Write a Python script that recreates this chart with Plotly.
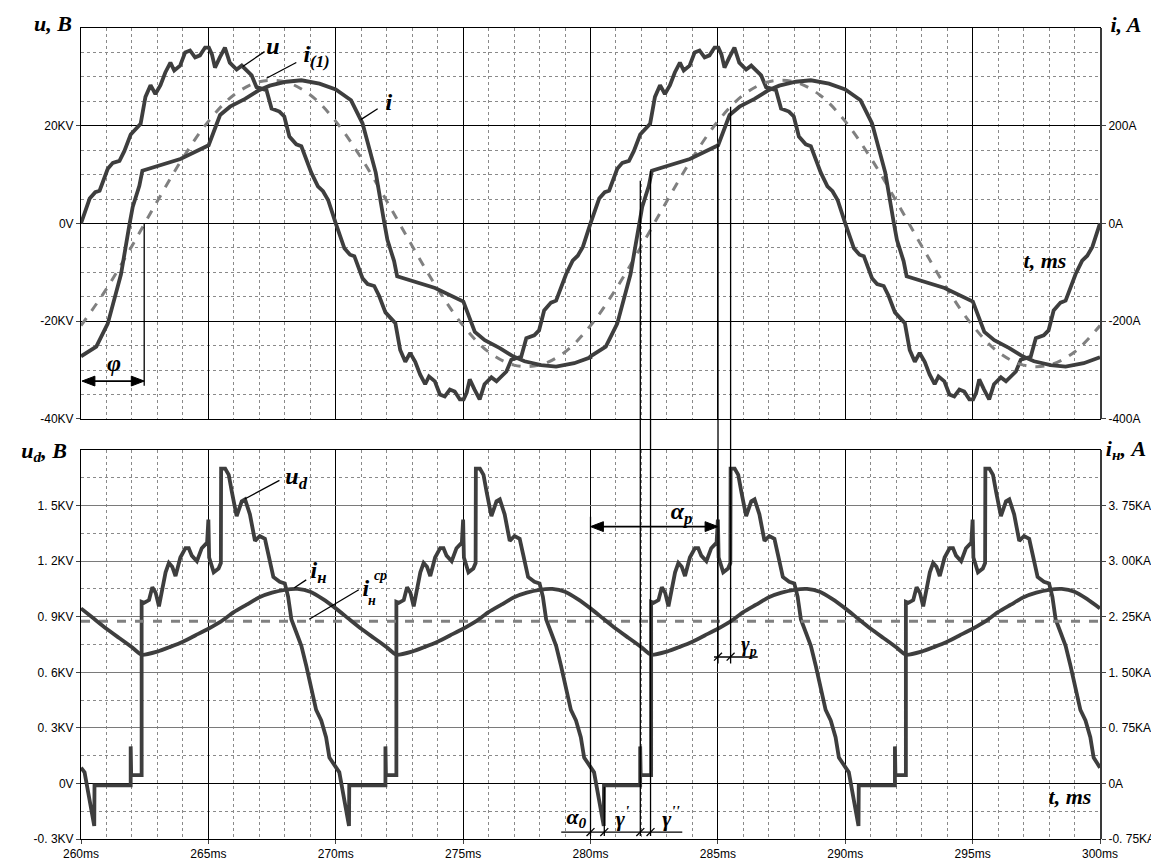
import re
import plotly.graph_objects as go

# ---------------- DATA ----------------
# Top panel: phase voltage u (KV), positive half-wave (ms from half-wave start)
u_half_t = [0, 0.34, 0.56, 0.73, 1.05, 1.25, 1.51, 1.70, 1.95, 2.34, 2.53, 2.73, 2.92, 3.12, 3.31,
            3.51, 3.66, 3.89, 4.09, 4.28, 4.48, 4.67, 4.87, 5.02, 5.14, 5.26, 5.45, 5.65, 5.84, 6.11,
            6.31, 6.70, 6.89, 7.28, 7.48, 7.79, 7.98, 8.18, 8.45, 8.65, 9.04, 9.30, 9.50, 9.70]
u_half_kv = [0, 5.1, 6.4, 6.7, 11.2, 12.4, 12.8, 14.8, 18.2, 20.4, 25.9, 28.3, 26.5, 28.3, 30.9,
             32.9, 31.3, 32.3, 35.0, 35.4, 34.0, 34.4, 36.0, 36.0, 34.6, 31.9, 34.0, 36.0, 32.9, 31.5,
             32.3, 30.3, 27.9, 27.3, 23.5, 22.9, 21.9, 17.8, 16.2, 15.8, 10.4, 7.6, 6.6, 4.8]

# Top panel: line current i (A), one period (ms from period start)
i_t = [0, 0.6, 1.05, 1.57, 1.9, 2.03, 2.29, 2.41, 3.9, 5.01, 5.46, 5.85, 6.44, 6.96, 7.41, 8.06, 8.65,
       9.36, 10.0, 10.6, 11.05, 11.57, 11.9, 12.03, 12.29, 12.41, 13.9, 15.01, 15.46, 15.85, 16.44,
       16.96, 17.41, 18.06, 18.65, 19.36, 20.0]
i_a = [-272, -252, -205, -104, -3, 34, 77, 108, 132, 160, 222, 239, 255, 272, 282, 290, 293,
       286, 274, 252, 205, 104, 3, -34, -77, -108, -132, -160, -222, -239, -255,
       -272, -282, -290, -293, -286, -274]

# Top panel: fundamental current i(1) (A), sampled every 1 ms from 260 ms
i1_t = list(range(260, 301))
i1_a = [-209, -134, -46, 46, 134, 209, 263, 290, 290, 263, 209, 134, 46, -46, -134, -209, -263, -290,
        -290, -263, -209, -134, -46, 46, 134, 209, 263, 290, 290, 263, 209, 134, 46, -46, -134, -209,
        -263, -290, -290, -263, -209]

# Bottom panel: rectified voltage ud (KV), one 10 ms cycle
ud_t = [0.00, 0.14, 0.52, 0.53, 1.95, 1.95, 1.97, 2.38, 2.38, 2.47, 2.67, 2.80, 2.93, 3.06, 3.19,
        3.32, 3.45, 3.58, 3.71, 3.90, 4.10, 4.23, 4.35, 4.55, 4.74, 4.95, 5.00, 5.03, 5.21, 5.40,
        5.49, 5.50, 5.66, 5.80, 5.92, 6.11, 6.31, 6.44, 6.63, 6.83, 7.02, 7.22, 7.35, 7.55, 7.80,
        8.00, 8.13, 8.26, 8.45, 8.65, 8.84, 9.04, 9.23, 9.43, 9.62, 9.75]
ud_kv = [0.085, 0.06, -0.23, -0.01, -0.01, 0.20, 0.045, 0.045, 0.98, 0.975, 0.99, 1.06, 1.03, 0.956, 1.06,
         1.14, 1.19, 1.17, 1.12, 1.22, 1.27, 1.27, 1.23, 1.20, 1.27, 1.30, 1.425, 1.22, 1.14, 1.16,
         1.19, 1.70, 1.70, 1.666, 1.576, 1.443, 1.523, 1.534, 1.453, 1.31, 1.336, 1.321, 1.24, 1.115, 1.089,
         1.08, 1.009, 0.885, 0.816, 0.743, 0.637, 0.524, 0.397, 0.34, 0.25, 0.14]

# Bottom panel: load current iн (KA), one 10 ms cycle, and its mean
in_t = [0, 0.5, 1.0, 1.5, 2.0, 2.38, 3.0, 3.5, 4.0, 4.5, 5.0, 5.5, 6.0, 6.5, 7.0, 7.5, 8.0, 8.5, 9.0, 9.5]
in_ka = [2.363, 2.225, 2.088, 1.963, 1.838, 1.738, 1.78, 1.843, 1.913, 2.0, 2.088, 2.188, 2.313, 2.413,
         2.513, 2.575, 2.613, 2.625, 2.588, 2.488]
in_mean_ka = 2.19

# Axis ticks
x_ticks = [260, 265, 270, 275, 280, 285, 290, 295, 300]
x_labels = [f"{v}ms" for v in x_ticks]
top_l_vals = [-40, -20, 0, 20]
top_l_text = ["-40KV", "-20KV", "0V", "20KV"]
top_r_vals = [-400, -200, 0, 200]
top_r_text = ["-400A", "-200A", "0A", "200A"]
bot_l_vals = [-0.3, 0, 0.3, 0.6, 0.9, 1.2, 1.5]
bot_l_text = ["-0. 3KV", "0V", "0. 3KV", "0. 6KV", "0. 9KV", "1. 2KV", "1. 5KV"]
bot_r_vals = [-0.75, 0, 0.75, 1.5, 2.25, 3.0, 3.75]
bot_r_text = ["-0. 75KA", "0A", "0. 75KA", "1. 50KA", "2. 25KA", "3. 00KA", "3. 75KA"]

# ---------------- build periodic series ----------------
u_x, u_y = [], []
for p in range(2):
    for t, v in zip(u_half_t, u_half_kv):
        u_x.append(260 + 20 * p + t); u_y.append(v)
    for t, v in zip(u_half_t, u_half_kv):
        u_x.append(270 + 20 * p + t); u_y.append(-v)
u_x.append(300); u_y.append(0)

ix, iy = [], []
for p in range(2):
    for t, v in zip(i_t, i_a):
        ix.append(260 + 20 * p + t); iy.append(v)

udx, udy = [], []
for k in range(4):
    for t, v in zip(ud_t, ud_kv):
        udx.append(260 + 10 * k + t); udy.append(v)
udx.append(300); udy.append(ud_kv[0])

inx, iny = [], []
for k in range(4):
    for t, v in zip(in_t, in_ka):
        inx.append(260 + 10 * k + t); iny.append(v)
inx.append(300); iny.append(in_ka[0])

DARK = "#3e3e3e"
GREY = "#808080"
LW = 3.8

fig = go.Figure()
fig.add_trace(go.Scatter(x=u_x, y=u_y, mode="lines", line=dict(color=DARK, width=LW),
                         xaxis="x2", yaxis="y3", name="u"))
fig.add_trace(go.Scatter(x=i1_t, y=i1_a, mode="lines", line=dict(color=GREY, width=3, dash="dash", shape="spline"),
                         xaxis="x2", yaxis="y4", name="i(1)"))
fig.add_trace(go.Scatter(x=ix, y=iy, mode="lines", line=dict(color=DARK, width=LW),
                         xaxis="x2", yaxis="y4", name="i"))
fig.add_trace(go.Scatter(x=[260, 300], y=[in_mean_ka, in_mean_ka], mode="lines",
                         line=dict(color=GREY, width=3, dash="dash"), xaxis="x", yaxis="y2", name="iн ср"))
fig.add_trace(go.Scatter(x=inx, y=iny, mode="lines", line=dict(color=DARK, width=LW, shape="spline", smoothing=0.6),
                         xaxis="x", yaxis="y2", name="iн"))
fig.add_trace(go.Scatter(x=udx, y=udy, mode="lines", line=dict(color=DARK, width=LW),
                         xaxis="x", yaxis="y", name="ud"))

TICKFONT = dict(family="Liberation Sans", size=12, color="black")
minor_x = dict(dtick=1, showgrid=True, griddash="dot", gridcolor="#8a8a8a", gridwidth=1, ticks="")
xcommon = dict(range=[260, 300], tickvals=x_ticks, gridcolor="black", gridwidth=1, showgrid=True,
               zeroline=False, showline=True, linecolor="black", linewidth=1, mirror=True,
               minor=minor_x)

fig.update_layout(
    width=1159, height=865,
    margin=dict(l=73, r=59, t=20, b=22),
    paper_bgcolor="white", plot_bgcolor="white",
    showlegend=False,
    xaxis=dict(domain=[0, 1], anchor="y", ticktext=x_labels, ticks="outside", ticklen=4,
               tickfont=TICKFONT, **xcommon),
    xaxis2=dict(domain=[0, 1], anchor="y3", matches="x", showticklabels=False, ticks="", **xcommon),
    yaxis=dict(domain=[0, 0.4796], range=[-0.3, 1.8], tickvals=bot_l_vals, ticktext=bot_l_text,
               tickfont=TICKFONT, ticks="outside", ticklen=4, showgrid=True, gridcolor="#7a7a7a",
               zeroline=True, zerolinecolor="black", zerolinewidth=1,
               showline=True, linecolor="black", linewidth=1, mirror=True,
               minor=dict(dtick=0.15, tick0=0, showgrid=True, griddash="dot", gridcolor="#8a8a8a")),
    yaxis2=dict(domain=[0, 0.4796], overlaying="y", side="right", anchor="x", range=[-0.75, 4.5],
                tickvals=bot_r_vals, ticktext=bot_r_text, tickfont=TICKFONT, ticks="outside", ticklen=4,
                showgrid=False, zeroline=False, showline=True, linecolor="#3a3a3a", linewidth=2),
    yaxis3=dict(domain=[0.518, 1], anchor="x2", range=[-40, 40], tickvals=top_l_vals, ticktext=top_l_text,
                tickfont=TICKFONT, ticks="outside", ticklen=4, showgrid=True, gridcolor="black",
                zeroline=True, zerolinecolor="black", zerolinewidth=1,
                showline=True, linecolor="black", linewidth=1, mirror=True,
                minor=dict(dtick=5, tick0=0, showgrid=True, griddash="dot", gridcolor="#8a8a8a")),
    yaxis4=dict(domain=[0.518, 1], overlaying="y3", side="right", anchor="x2", range=[-400, 400],
                tickvals=top_r_vals, ticktext=top_r_text, tickfont=TICKFONT, ticks="outside", ticklen=4,
                showgrid=False, zeroline=False, showline=True, linecolor="#3a3a3a", linewidth=2),
)

# ---------------- annotations (pixel-placed) ----------------
def PX(x):
    return (x - 73) / 1027.0

def PY(y):
    return (843 - y) / 823.0

SERIF = "Liberation Serif"

def label(text, x, y, size=22):
    plain = re.sub(r"<[^>]+>", "", text)
    w = max(16, int(len(plain) * size * 0.62) + 10)
    h = int(size * 1.6)
    fig.add_annotation(text=text, x=PX(x), y=PY(y), xref="paper", yref="paper", showarrow=False,
                       xanchor="center", yanchor="middle", align="center", valign="middle",
                       width=w, height=h,
                       font=dict(family=SERIF, size=size, color="black", weight="bold", style="italic"))

def seg(x0, y0, x1, y1, w=1.3, color="black"):
    fig.add_shape(type="line", xref="paper", yref="paper", x0=PX(x0), y0=PY(y0), x1=PX(x1), y1=PY(y1),
                  line=dict(color=color, width=w))

def tri(xtip, y, direction):
    xb = xtip - direction * 13
    path = (f"M {PX(xtip)},{PY(y)} L {PX(xb)},{PY(y - 5)} L {PX(xb)},{PY(y + 5)} Z")
    fig.add_shape(type="path", xref="paper", yref="paper", path=path,
                  fillcolor="black", line=dict(color="black", width=1))

def dbl_arrow(x0, x1, y):
    seg(x0 + 6, y, x1 - 6, y, w=1.6)
    tri(x0, y, -1)
    tri(x1, y, +1)

# axis titles
label("u, B", 45, 15)
label("i, A", 1126, 16)
label("u<sub>d</sub>, B", 36, 450)
label("i<sub>н</sub>, A", 1126, 448)
label("t, ms", 1045, 256)
label("t, ms", 1070, 800)

# curve labels (top)
label("u", 267, 38, size=24)
seg(236, 59, 258, 44)
label("i<sub>(1)</sub>", 310, 48, size=24)
seg(260, 71, 290, 55)
label("i", 383, 95, size=24)
seg(355, 113, 372, 102)

# phi
label("φ", 106, 360, size=24)
dbl_arrow(74, 136.7, 378.3)
seg(136.7, 218.7, 136.7, 383)

# curve labels (bottom)
label("u<sub>d</sub>", 290, 477, size=24)
seg(238, 498, 273, 479)
label("i<sub>н</sub>", 312, 572, size=24)
seg(288, 588, 300, 580)
label("i", 360, 588, size=24)
label("н", 366, 600, size=14)
label("cp", 375, 575, size=14)
seg(303, 620, 353, 590)

# alpha_p
label("α<sub>p</sub>", 678, 512, size=24)
dbl_arrow(586.5, 715, 526)
# gamma_p
label("γ<sub>p</sub>", 746, 647, size=20)
seg(711, 658.3, 755, 658.3)
for xx in (715, 727.7):
    seg(xx - 4, 662, xx + 4, 654)

# long vertical construction lines
seg(586.5, 516, 586.5, 840)
seg(600.4, 790, 600.4, 840)
seg(636.7, 175, 636.7, 840)
seg(647.0, 165, 647.0, 840)
seg(715.0, 138, 715.0, 665)
seg(727.7, 100, 727.7, 665)

# bottom interval marks
label("α<sub>0</sub>", 572, 821, size=22)
label("γ<sup>'</sup>", 619, 820, size=22)
label("γ<sup>''</sup>", 668, 820, size=22)
seg(557, 836, 679, 836)
for xx in (586.5, 600.4, 636.7, 647.0):
    seg(xx - 4, 840, xx + 4, 832)

fig.write_html("out.html")
